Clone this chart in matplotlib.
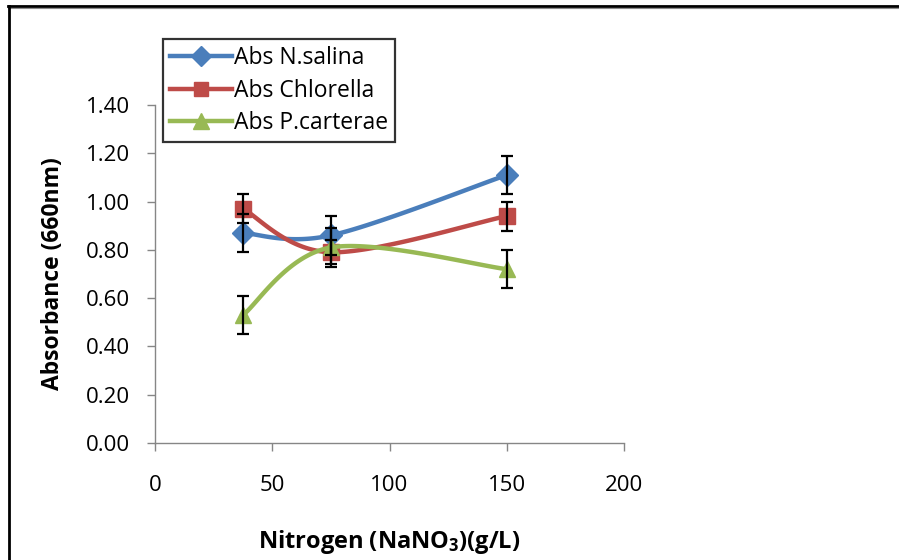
import numpy as np
import matplotlib
matplotlib.use("Agg")
import matplotlib.pyplot as plt
from matplotlib.lines import Line2D

# Nitrogen concentration (g/L) and absorbance at 660 nm for each species
nitrogen = [37.5, 75, 150]
abs_salina = [0.87, 0.86, 1.11]
abs_chlorella = [0.97, 0.79, 0.94]
abs_carterae = [0.53, 0.81, 0.72]
err_salina = [0.08, 0.08, 0.08]
err_chlorella = [0.06, 0.05, 0.06]
err_carterae = [0.08, 0.08, 0.08]
series_names = ["Abs N.salina", "Abs Chlorella", "Abs P.carterae"]
x_ticks = [0, 50, 100, 150, 200]
y_ticks = [0.0, 0.2, 0.4, 0.6, 0.8, 1.0, 1.2, 1.4]

FONT = "Open Sans"
plt.rcParams["font.family"] = [FONT, "DejaVu Sans"]
plt.rcParams["mathtext.fontset"] = "custom"
plt.rcParams["mathtext.rm"] = f"{FONT}:bold"
plt.rcParams["mathtext.it"] = f"{FONT}:bold"
plt.rcParams["mathtext.bf"] = f"{FONT}:bold"

AXIS_GREY = "#868686"
colors = ["#4A7EBB", "#BE4B48", "#98B954"]
markers = ["D", "s", "^"]
msizes = [11, 11, 12]
TICK_SIZE = 16
LEGEND_SIZE = 16.5
LABEL_SIZE = 16.5


def smooth_curve(xs, ys, n=60):
    """Bezier smoothing through the points (Catmull-Rom style control points)."""
    pts = np.column_stack([xs, ys]).astype(float)
    out = []
    m = len(pts)
    for i in range(m - 1):
        p0 = pts[i - 1] if i > 0 else pts[i]
        p1 = pts[i]
        p2 = pts[i + 1]
        p3 = pts[i + 2] if i + 2 < m else pts[i + 1]
        c1 = p1 + (p2 - p0) / 6.0
        c2 = p2 - (p3 - p1) / 6.0
        t = np.linspace(0, 1, n)[:, None]
        seg = ((1 - t) ** 3) * p1 + 3 * ((1 - t) ** 2) * t * c1 + 3 * (1 - t) * t ** 2 * c2 + t ** 3 * p2
        out.append(seg if i == 0 else seg[1:])
    seg = np.vstack(out)
    return seg[:, 0], seg[:, 1]


fig = plt.figure(figsize=(8.99, 5.6), dpi=100)
W, H = 899, 560
ax = fig.add_axes([155 / W, 1 - 443 / H, (624 - 155) / W, (443 - 105) / H])

data = [(abs_salina, err_salina), (abs_chlorella, err_chlorella), (abs_carterae, err_carterae)]
handles = []
for k, ((vals, errs), name) in enumerate(zip(data, series_names)):
    sx, sy = smooth_curve(nitrogen, vals)
    ax.plot(sx, sy, color=colors[k], lw=3.2, solid_capstyle="round", zorder=2 + k)
    ax.plot(nitrogen, vals, linestyle="none", marker=markers[k], ms=msizes[k],
            color=colors[k], mec=colors[k], zorder=2 + k)
    ax.errorbar(nitrogen, vals, yerr=errs, fmt="none", ecolor="black",
                elinewidth=1.6, capsize=4, capthick=1.6, zorder=10)
    handles.append(Line2D([], [], color=colors[k], lw=3.2, marker=markers[k],
                          ms=msizes[k] - 1, mec=colors[k], label=name))

ax.set_xlim(0, 200)
ax.set_ylim(0, 1.4)
ax.set_xticks(x_ticks)
ax.set_yticks(y_ticks)
ax.set_yticklabels([f"{v:.2f}" for v in y_ticks])
ax.set_xticklabels([str(v) for v in x_ticks])

for side in ("top", "right"):
    ax.spines[side].set_visible(False)
for side in ("left", "bottom"):
    ax.spines[side].set_color(AXIS_GREY)
    ax.spines[side].set_linewidth(1.0)
ax.tick_params(axis="both", colors=AXIS_GREY, labelcolor="#000000",
               labelsize=TICK_SIZE, direction="out", length=6, width=1.0)
ax.tick_params(axis="y", pad=12)
ax.tick_params(axis="x", pad=17)

ax.set_ylabel("Absorbance (660nm)", fontsize=LABEL_SIZE, fontweight="bold")
ax.yaxis.set_label_coords(-0.192, 0.5)
ax.set_xlabel("Nitrogen (NaNO$_3$)(g/L)", fontsize=17, fontweight="bold")
ax.xaxis.set_label_coords(0.5, -0.25)

leg = fig.legend(handles=handles, loc="upper left",
                 bbox_to_anchor=(163 / W, 1 - 39 / H), bbox_transform=fig.transFigure,
                 frameon=True, fancybox=False, edgecolor="black", fontsize=LEGEND_SIZE,
                 handlelength=2.7, handletextpad=0.1, labelspacing=0.38,
                 borderpad=0.3, borderaxespad=0)
leg.get_frame().set_linewidth(1.6)

# Chart-area border along the top and left edges
fig.add_artist(Line2D([8 / W, 1], [1 - 5.5 / H, 1 - 5.5 / H], transform=fig.transFigure,
                      color="black", lw=2.0))
fig.add_artist(Line2D([8 / W, 1], [1 - 7.5 / H, 1 - 7.5 / H], transform=fig.transFigure,
                      color="#8c8c8c", lw=0.8))
fig.add_artist(Line2D([9 / W, 9 / W], [0, 1 - 5.5 / H], transform=fig.transFigure,
                      color="black", lw=2.0))

fig.savefig("out.png", dpi=100)
